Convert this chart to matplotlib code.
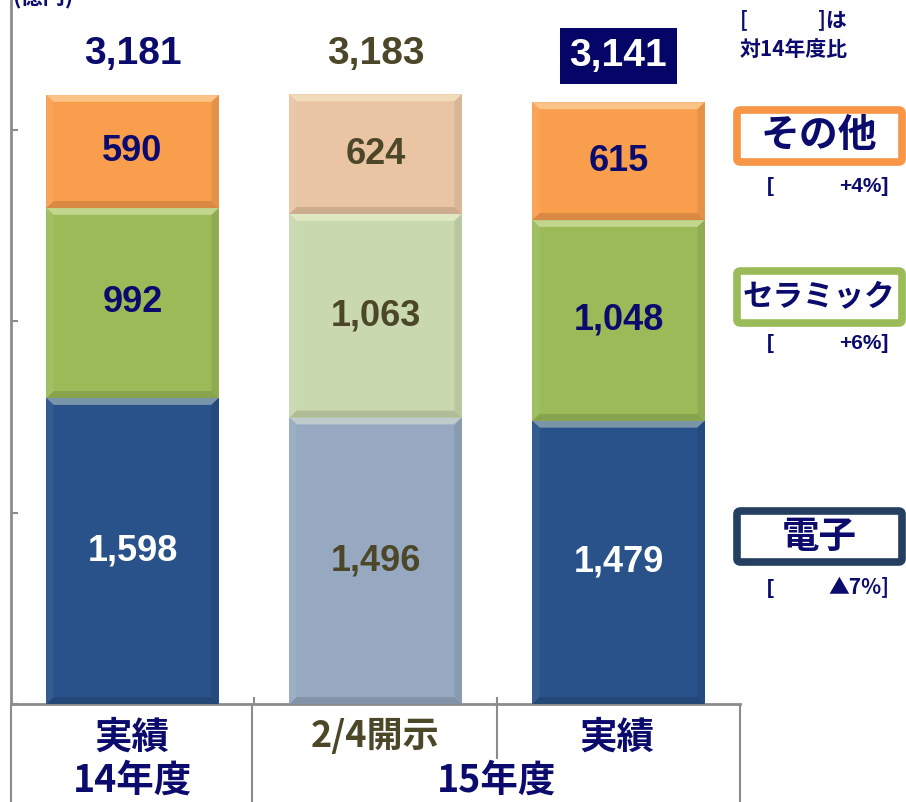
import matplotlib
matplotlib.use("Agg")
import matplotlib.pyplot as plt
from matplotlib.patches import Polygon, FancyBboxPatch
from matplotlib.lines import Line2D
import matplotlib.colors as mcolors
import numpy as np

# ---------------- data ----------------
columns = ["実績", "2/4開示", "実績"]
years = ["14年度", "15年度"]
electronics = [1598, 1496, 1479]
ceramics = [992, 1063, 1048]
others = [590, 624, 615]
totals = [3181, 3183, 3141]
segment_names = ["その他", "セラミック", "電子"]
segment_changes = ["+4%", "+6%", "▲7%"]
unit_label = "(億円)"
note_line1 = "]は"
note_line2 = "対14年度比"

# ---------------- style ----------------
W, H = 906, 802
DPI = 100
NAVY = "#0B0B6E"
OLIVE = "#4B4728"
GRAY = "#8C8C8C"
solid_cols = {"e": "#285289", "c": "#9BBB59", "o": "#F99E4D"}
light_cols = {"e": "#96A9C0", "c": "#C9D8AE", "o": "#EAC5A3"}
JP = ["Noto Sans CJK JP", "DejaVu Sans"]
LAT = ["Liberation Sans", "DejaVu Sans"]

fig = plt.figure(figsize=(W / DPI, H / DPI), dpi=DPI)
fig.patch.set_facecolor("white")

def fx(px):
    return px / W

def fy(py):
    return 1 - py / H

ax_left, ax_right, ax_bottom = 11, 740, 704
ax = fig.add_axes([fx(ax_left), fy(ax_bottom), fx(ax_right - ax_left), ax_bottom / H])
ymax = ax_bottom / 0.1915
ax.set_xlim(-0.5, 2.5)
ax.set_ylim(0, ymax)
ax.set_facecolor("none")

x = np.arange(len(columns))
width = 0.71

def blend(c, other, t):
    a = np.array(mcolors.to_rgb(c))
    b = np.array(mcolors.to_rgb(other))
    return tuple(a * (1 - t) + b * t)

def bevel(xc, y0, y1, color):
    x0, x1 = xc - width / 2, xc + width / 2
    dx, dy = 0.03, 36
    pts = {
        "top": ([(x0, y1), (x1, y1), (x1 - dx, y1 - dy), (x0 + dx, y1 - dy)], blend(color, "#FFFFE0", 0.38)),
        "bot": ([(x0, y0), (x1, y0), (x1 - dx, y0 + dy), (x0 + dx, y0 + dy)], blend(color, "black", 0.13)),
        "left": ([(x0, y0), (x0, y1), (x0 + dx, y1 - dy), (x0 + dx, y0 + dy)], blend(color, "white", 0.06)),
        "right": ([(x1, y0), (x1, y1), (x1 - dx, y1 - dy), (x1 - dx, y0 + dy)], blend(color, "black", 0.08)),
    }
    for poly, col in pts.values():
        ax.add_patch(Polygon(poly, closed=True, facecolor=col, edgecolor="none", zorder=3))

for i in range(len(columns)):
    pal = light_cols if i == 1 else solid_cols
    segs = [(electronics[i], pal["e"]), (ceramics[i], pal["c"]), (others[i], pal["o"])]
    bottom = 0
    for val, col in segs:
        ax.bar(x[i], val, width=width, bottom=bottom, color=col, edgecolor="none", zorder=2)
        bevel(x[i], bottom, bottom + val, col)
        bottom += val

# segment labels
for i in range(len(columns)):
    if i == 1:
        cs = [OLIVE, OLIVE, OLIVE]
    else:
        cs = ["white", NAVY, NAVY]
    vals = [electronics[i], ceramics[i], others[i]]
    bottom = 0
    for v, c in zip(vals, cs):
        ax.text(x[i], bottom + v / 2, f"{v:,}", ha="center", va="center",
                fontsize=26, fontweight="bold", color=c, family=LAT, zorder=5)
        bottom += v

# totals
for i, t in enumerate(totals):
    ypix = 56 if i == 2 else 54
    yv = (ax_bottom - ypix) / 0.1915
    if i == 2:
        ax.text(x[i], yv, f"{t:,}", ha="center", va="center", fontsize=28,
                fontweight="bold", color="white", family=LAT, zorder=6, clip_on=False,
                bbox=dict(boxstyle="square,pad=0.26", facecolor="#050568", edgecolor="none"))
    else:
        ax.text(x[i], yv, f"{t:,}", ha="center", va="center", fontsize=28,
                fontweight="bold", color=NAVY if i == 0 else OLIVE, family=LAT, zorder=6)

# axes styling
for s in ["top", "right"]:
    ax.spines[s].set_visible(False)
for s in ["left", "bottom"]:
    ax.spines[s].set_color(GRAY)
    ax.spines[s].set_linewidth(2)
ax.set_yticks([0, 1000, 2000, 3000])
ax.set_yticklabels([])
ax.tick_params(axis="y", direction="in", length=5, width=1.5, color=GRAY)
ax.set_xticks([0.5, 1.5])
ax.set_xticklabels([])
ax.tick_params(axis="x", direction="in", length=5, width=1.5, color=GRAY)

# table lines below axis
def vline(px, y0, y1):
    fig.add_artist(Line2D([fx(px), fx(px)], [fy(y0), fy(y1)], color=GRAY, lw=1.5))

vline(11, 706, 802)
vline(252, 706, 802)
vline(740, 706, 802)
vline(497, 706, 758)

# category labels
fig.text(fx(132), fy(737), columns[0], ha="center", va="center", fontsize=27,
         fontweight="bold", color=NAVY, family=JP)
fig.text(fx(375), fy(737), columns[1], ha="center", va="center", fontsize=26,
         fontweight="bold", color=OLIVE, family=JP)
fig.text(fx(617), fy(737), columns[2], ha="center", va="center", fontsize=27,
         fontweight="bold", color=NAVY, family=JP)
fig.text(fx(132), fy(780), years[0], ha="center", va="center", fontsize=27,
         fontweight="bold", color=NAVY, family=JP)
fig.text(fx(497), fy(780), years[1], ha="center", va="center", fontsize=27,
         fontweight="bold", color=NAVY, family=JP)

# unit label (cut at top, as in the reference)
fig.text(fx(12), fy(4), unit_label, ha="left", va="baseline", fontsize=16,
         fontweight="bold", color=NAVY, family=JP)

# right-side note
fig.text(fx(740), fy(20), "[", ha="left", va="center", fontsize=15,
         fontweight="bold", color=NAVY, family=JP)
fig.text(fx(818), fy(20), note_line1, ha="left", va="center", fontsize=15,
         fontweight="bold", color=NAVY, family=JP)
fig.text(fx(740), fy(50), note_line2, ha="left", va="center", fontsize=15,
         fontweight="bold", color=NAVY, family=JP)

# right-side legend boxes
boxes = [
    (segment_names[0], segment_changes[0], "#F79646", 107, 165, 187, 28),
    (segment_names[1], segment_changes[1], "#9BBB59", 268, 326, 344, 22),
    (segment_names[2], segment_changes[2], "#243F60", 508, 565, 588, 27),
]
for name, chg, ec, ytop, ybot, ych, fs in boxes:
    fig.add_artist(FancyBboxPatch((fx(737), fy(ybot - 3)), fx(902 - 737), (ybot - ytop - 6) / H,
                                  boxstyle="round,pad=0,rounding_size=0.004",
                                  facecolor="white", edgecolor=ec, linewidth=5.5,
                                  transform=fig.transFigure))
    fig.text(fx(819), fy((ytop + ybot) / 2), name, ha="center", va="center",
             fontsize=fs, fontweight="bold", color=NAVY, family=JP)
    fig.text(fx(767), fy(ych), "[", ha="left", va="center", fontsize=15,
             fontweight="bold", color=NAVY, family=LAT)
    fam = JP if chg.startswith("▲") else LAT
    fig.text(fx(889), fy(ych), chg + "]", ha="right", va="center", fontsize=15,
             fontweight="bold", color=NAVY, family=fam)

fig.savefig("out.png", dpi=DPI, facecolor="white")
